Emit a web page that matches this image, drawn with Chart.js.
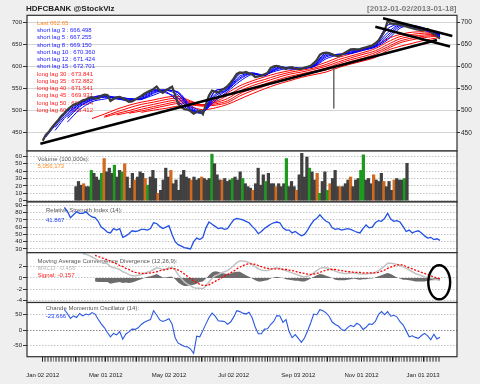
<!DOCTYPE html>
<html>
<head>
<meta charset="utf-8">
<title>HDFCBANK @StockViz</title>
<script src="https://cdn.jsdelivr.net/npm/chart.js@4.4.1/dist/chart.umd.min.js"></script>
<style>
  html, body { margin:0; padding:0; background:#efefef; }
  #wrap { position:relative; width:480px; height:384px; overflow:hidden; background:#efefef; }
  #wrap canvas { position:absolute; left:0; top:0; }
</style>
</head>
<body>
<div id="wrap">
  <canvas id="pricePanel" width="480" height="384"></canvas>
  <canvas id="volumePanel" width="480" height="384"></canvas>
  <canvas id="rsiPanel" width="480" height="384"></canvas>
  <canvas id="macdPanel" width="480" height="384"></canvas>
  <canvas id="cmoPanel" width="480" height="384"></canvas>
</div>
<script>
// ---------------- DATA ----------------
// x = trading-day index (0 = Jan 02 2012), one sample every 2nd trading day
const close = [432,445,452,462,470,478,487,494,502,508,
  513,515,519,523,525,529,530,527,528,533,
  536,535,522,526,530,531,528,524,520,521,
  525,529,533,538,542,545,549,554,545,540,
  546,550,554,535,515,508,503,502,499,493,
  497,500,492,514,534,545,543,541,546,550,
  555,563,572,583,586,585,587,584,582,576,
  577,579,582,585,596,600,601,599,597,594,
  597,598,595,594,594,597,599,601,607,614,
  626,630,631,630,627,624,623,626,630,634,
  638,639,638,639,641,643,645,647,652,658,
  668,680,702,697,696,696,694,692,690,688,
  686,684,683,681,682,684,678,673,668,662.65];

// volume in 100,000s
const volume = [19,26,21,23,19,19,41,37,32,28,
  37,57,39,44,37,48,32,41,39,50,
  32,17,37,28,32,39,37,30,21,32,
  41,30,10,14,28,44,32,41,23,28,
  14,35,41,32,30,28,32,28,30,32,
  30,28,30,63,50,35,28,28,30,26,
  28,30,32,28,39,30,23,19,17,14,
  23,44,21,35,26,37,23,23,19,23,
  19,23,57,19,26,19,14,35,64,32,
  59,44,39,28,37,10,26,39,14,23,
  30,41,19,19,19,23,28,32,19,28,
  30,41,62,28,30,23,35,28,26,37,
  26,19,26,14,28,30,28,28,30,50.56173];
// 0 = plain bar, 1 = green bar, 2 = orange bar
const volFlag = [0,0,0,2,0,0,1,0,0,0,
  1,2,0,0,0,1,0,0,1,2,
  0,0,0,2,0,0,0,2,1,0,
  0,0,2,0,0,0,0,2,0,0,
  0,0,0,0,0,2,0,0,0,2,
  0,0,0,1,0,0,0,2,0,0,
  0,1,0,0,0,1,0,0,0,2,
  0,0,0,0,1,0,0,0,2,0,
  0,0,1,0,0,0,2,0,0,0,
  0,1,0,0,2,1,0,0,1,2,
  0,0,0,2,0,0,0,2,0,0,
  0,1,1,0,0,0,2,0,0,0,
  2,0,0,0,2,0,0,0,1,0];

const rsi = [null,null,null,null,null,null,null,87,82,73,
  77,81,79,79,81,77,74,73,68,60,
  57,53,52,58,56,58,46,48,51,55,
  54,55,57,57,56,58,66,65,61,58,
  60,62,50,40,36,34,32,31,30,40,
  45,43,46,59,67,64,61,58,59,57,
  58,64,70,72,71,70,68,66,61,57,
  51,54,58,61,64,66,67,66,59,56,
  56,52,54,51,48,50,56,63,69,72,
  77,72,68,66,59,57,58,56,57,58,
  57,55,53,52,58,63,59,60,66,69,
  68,72,79,71,68,69,67,61,54,56,
  52,54,55,52,48,45,46,43,44,41.867];

const macd = [null,null,null,null,null,null,null,null,null,null,
  null,null,null,4.3,4.2,4.0,3.7,3.4,3.1,2.9,
  2.7,2.5,2.0,1.8,1.7,1.5,1.1,0.9,0.6,0.4,
  0.4,0.5,0.6,0.8,1.0,1.2,1.5,1.8,1.7,1.5,
  1.6,1.8,1.9,1.4,0.6,-0.1,-0.7,-1.1,-1.4,-1.7,
  -1.8,-1.8,-1.9,-1.4,-0.7,-0.1,0.4,0.6,0.9,1.1,
  1.3,1.7,2.2,2.7,3.0,3.0,2.9,2.7,2.4,2.0,
  1.6,1.4,1.3,1.3,1.5,1.7,1.8,1.7,1.5,1.3,
  1.1,0.9,0.7,0.5,0.3,0.2,0.3,0.5,0.9,1.3,
  1.7,1.8,1.8,1.7,1.5,1.2,1.0,0.9,0.8,0.8,
  0.9,0.9,0.8,0.7,0.7,0.7,0.8,0.8,1.0,1.3,
  1.7,2.1,2.6,2.6,2.5,2.4,2.2,2.0,1.7,1.4,
  1.1,0.8,0.6,0.4,0.2,0.1,0.0,-0.2,-0.3,-0.456];

const signal = [null,null,null,null,null,null,null,null,null,null,
  null,null,null,null,null,null,null,4.0,3.8,3.6,
  3.4,3.2,3.0,2.7,2.5,2.2,2.0,1.7,1.5,1.2,
  1.0,0.9,0.8,0.8,0.8,0.9,1.0,1.1,1.3,1.4,
  1.5,1.6,1.7,1.6,1.4,1.1,0.7,0.3,-0.1,-0.5,
  -0.8,-1.1,-1.3,-1.3,-1.2,-0.9,-0.6,-0.3,0.0,0.3,
  0.6,0.9,1.2,1.6,1.9,2.2,2.4,2.5,2.5,2.4,
  2.2,2.0,1.8,1.7,1.6,1.6,1.6,1.6,1.5,1.5,
  1.4,1.3,1.2,1.0,0.9,0.8,0.7,0.6,0.7,0.8,
  1.0,1.2,1.4,1.5,1.5,1.5,1.4,1.3,1.2,1.1,
  1.1,1.0,1.0,1.0,0.9,0.9,0.9,0.9,0.9,1.0,
  1.2,1.4,1.7,1.9,2.1,2.3,2.3,2.3,2.0,1.8,
  1.6,1.4,1.2,1.0,0.8,0.6,0.4,0.2,0.0,-0.157];

const histogram = [null,null,null,null,null,null,null,null,null,null,
  null,null,null,null,null,null,null,-0.6,-0.7,-0.7,
  -0.7,-0.7,-1.0,-0.9,-0.8,-0.7,-0.9,-0.8,-0.9,-0.8,
  -0.6,-0.4,-0.2,0.0,0.2,0.3,0.5,0.7,0.4,0.1,
  0.1,0.2,0.2,-0.2,-0.8,-1.2,-1.4,-1.4,-1.3,-1.2,
  -1.0,-0.7,-0.6,-0.1,0.5,1.0,1.2,1.1,0.9,0.8,
  0.7,0.8,1.0,1.1,1.1,0.8,0.5,0.2,-0.1,-0.4,
  -0.6,-0.6,-0.5,-0.4,-0.1,0.1,0.2,0.1,0.0,-0.2,
  -0.3,-0.4,-0.5,-0.5,-0.6,-0.6,-0.4,-0.1,0.2,0.5,
  0.7,0.6,0.4,0.2,0.0,-0.3,-0.4,-0.4,-0.4,-0.3,
  -0.2,-0.1,-0.2,-0.3,-0.2,-0.2,-0.1,-0.1,0.1,0.3,
  0.5,0.7,0.9,0.7,0.4,0.1,-0.1,-0.3,-0.3,-0.4,
  -0.5,-0.6,-0.6,-0.6,-0.6,-0.5,-0.4,-0.4,-0.3,-0.3];

const cmo = [null,null,null,null,null,null,null,67,54,38,
  46,41,54,46,52,49,57,52,35,20,
  8,-8,-22,-11,-16,-5,-30,-13,-6,3,
  2,7,18,25,30,34,63,49,33,28,
  32,37,20,-25,-43,-48,-54,-55,-62,-76,
  -20,-22,-2,20,41,55,45,30,29,28,
  19,26,42,63,60,55,52,58,40,10,
  -12,-12,3,4,18,28,47,46,25,34,
  -5,-25,-15,-27,-40,-26,-3,23,52,50,
  66,63,56,45,26,18,13,2,-2,8,
  15,11,22,16,2,9,20,18,28,50,
  60,50,60,45,48,43,27,17,-2,-22,
  -19,-24,-27,-18,-11,-19,-32,-14,-29,-23.666];

// moving-average ribbons, sampled on these trading days
const maDays = [2,8,16,24,32,40,48,56,64,72,80,88,96,104,112,120,128,136,144,152,160,168,176,184,192,200,208,216,224,232,240,248,256,258];
const shortLag3  = [440,466,498,517,529.5,535,528,522,531,547,543,520,500,496,544,552,585,583,580,600,595,594,604,630.5,623.5,636,640,650,693,695,687,681.5,670,666.498];
const shortLag5  = [null,462,494,515,529,533,526,524,529,545,540,528,502,500,545,550,583,584,579,600,594,595,601,630,624,634,639,647,685,695.5,688,681,673,667.255];
const shortLag8  = [null,455,490,514,527,531,528,526,527,543.5,546,535,503,495.5,537,548,578,584.5,578.5,597,597,595,602,627,626,632,639,647,676,695,689,682.5,672,669.150];
const shortLag10 = [null,null,486,511,525,531,530,527,525.6,541,547,540,505,496,533,547,574,585,579,595,597.6,595.6,601,624,627,630,639,645.6,670,693,690,683,673,670.360];
const shortLag12 = [null,null,482,508.5,523.5,530.5,530,526.5,525,539,546.5,540,508,497,528,546.7,571,584.5,580,593,598,595.3,600,621,627.5,629,638,644.5,665,690,691,684,674,671.424];
const shortLag15 = [null,null,474,502,520,526,530,527,526,535,545,542,512,499,522,543,566,582,581.5,590,596,596,599,617,625.6,629,636,643,660,686,692,686,675,672.701];
const longLag30 = [null,null,null,null,482,492,503,512,519,524,530,532,522,513,524,540,556,567,576,584,590,595,600,609,620,628,636,645,662,672,677,678,675,673.841];
const longLag35 = [null,null,null,null,null,487,497,506,514,519,525,528,520,513,520,534,550,562,570,579,586,591,596,604,615,623,631,640,655,667,672,675,673.5,672.882];
const longLag40 = [null,null,null,null,null,485,493,500,508,514,520,524,518,513,518,527,544,556,565,574,582,587,593,600,610,619,627,635,649,662,668,671,672,671.541];
const longLag45 = [null,null,null,null,null,null,490,496,503,509,515,520,516,512,515,522,538,550,560,569,577,583,589,596,606,615,622,631,644,657,664,668,670,669.931];
const longLag50 = [null,null,null,null,null,null,null,494,499,505,511,516,513,510,512,518,533,545,555,565,573,580,586,592,602,611,618,627,640,653,660,665,668,668.204];
const longLag60 = [null,null,null,null,null,null,null,null,496,501,505,510,508,502,506,514,526,538,549,559,567,575,581,587,597,605,612,620,636,645,652,659,664,665.412];
const shortLagN = [3,5,8,10,12,15];
const longLagN = [30,35,40,45,50,60];

// hand-drawn trend lines: [startDay, startPrice, endDay, endPrice]
const trendLines = [[-1.5,425,256,659.5],[221,708.5,266,668.5],[216,689.5,264.5,644.5]];
// single long wick
const wickDay = 189, wickHigh = 601, wickLow = 505;
// ellipse marked on the MACD panel: [centerDay, centerValue, halfWidthDays, halfHeightValue]
const macdEllipse = [257.5, -0.76, 7.1, 3.0];

// axes
const priceTicks = [450,500,550,600,650,700];
const volTicks = [0,10,20,30,40,50,60];
const rsiTicks = [30,40,50,60,70,80,90];
const macdTicks = [-4,-2,0,2];
const cmoTicks = [-50,0,50];
const xLabelDays = [0,41,82,124,166,207,247];
const xLabels = ['Jan 02 2012','Mar 01 2012','May 02 2012','Jul 02 2012','Sep 03 2012','Nov 01 2012','Jan 01 2013'];
const monthStartDays = [0,21,41,61,82,103,124,146,166,185,207,227,247];
const lastTradingDay = 258;

// ---------------- CHARTS ----------------
const FONT = '"Liberation Sans", Arial, Helvetica, sans-serif';
Chart.defaults.font.family = FONT;
const X_MIN = -10.2, X_MAX = 269.04;
const sampleDays = close.map((_, i) => i * 2);
const tradingDays = Array.from({ length: lastTradingDay + 1 }, (_, i) => i);
const pts = (days, vals) => days.map((d, i) => ({ x: d, y: vals[i] }));
const last = a => a[a.length - 1];

const panelPlugin = {
  id: 'panel',
  beforeDraw(chart) {
    const a = chart.chartArea, c = chart.ctx;
    c.save(); c.fillStyle = '#ffffff';
    c.fillRect(a.left, a.top, a.right - a.left, a.bottom - a.top);
    c.restore();
  },
  beforeDatasetsDraw(chart, args, opts) {
    const a = chart.chartArea, c = chart.ctx;
    c.save();
    c.textBaseline = 'middle'; c.textAlign = 'left';
    c.font = '6px ' + FONT;
    (opts.lines || []).forEach(l => { c.fillStyle = l.color; c.fillText(l.text, a.left + l.dx, a.top + l.dy); });
    if (opts.baseBand) {
      const y0 = chart.scales.y.getPixelForValue(0);
      c.fillStyle = '#a5a5a5';
      c.fillRect(a.left, y0, a.right - a.left, a.bottom - y0);
    }
    c.restore();
  },
  afterDraw(chart, args, opts) {
    const a = chart.chartArea, c = chart.ctx;
    c.save();
    if (opts.ellipse) {
      const e = opts.ellipse, xs = chart.scales.x, ys = chart.scales.y;
      const cx = xs.getPixelForValue(e[0]), cy = ys.getPixelForValue(e[1]);
      const rx = Math.abs(xs.getPixelForValue(e[0] + e[2]) - cx);
      const ry = Math.abs(ys.getPixelForValue(e[1] + e[3]) - cy);
      c.strokeStyle = '#000'; c.lineWidth = 2.4;
      c.beginPath(); c.ellipse(cx, cy, rx, ry, 0, 0, Math.PI * 2); c.stroke();
    }
    c.strokeStyle = '#2e2e2e'; c.lineWidth = 1.2;
    c.strokeRect(a.left, a.top, a.right - a.left, a.bottom - a.top);
    if (opts.title) {
      c.textBaseline = 'middle';
      c.font = 'bold 8px ' + FONT;
      c.fillStyle = '#222'; c.textAlign = 'left';
      c.fillText('HDFCBANK @StockViz', 26, 8.5);
      c.fillStyle = '#7a7a7a'; c.textAlign = 'right';
      c.fillText('[2012-01-02/2013-01-18]', 456.5, 8.5);
    }
    c.restore();
  }
};

function yScale(o) {
  return {
    type: 'linear', position: o.position || 'left', min: o.min, max: o.max,
    afterBuildTicks: s => { s.ticks = o.ticks.map(v => ({ value: v })); },
    afterFit: s => { s.width = o.width || 27; },
    border: { display: false, dash: o.dash || [] },
    grid: {
      drawOnChartArea: o.onArea !== false, color: o.gridColor || '#d4d4d4', lineWidth: 1,
      drawTicks: true, tickLength: o.tickLength || 4, tickColor: '#333', tickWidth: 1, tickBorderDash: []
    },
    ticks: { font: { family: FONT, size: o.fontSize || 6 }, color: '#222', padding: 1, autoSkip: false }
  };
}
const hiddenX = { type: 'linear', min: X_MIN, max: X_MAX, display: false };

function baseOpts(top, bottomPad, rightPad, scales, panelOpts) {
  return {
    responsive: false, animation: false, events: [], devicePixelRatio: 1,
    layout: { padding: { top: top, bottom: bottomPad, left: 0, right: rightPad } },
    plugins: { legend: { display: false }, tooltip: { enabled: false }, panel: panelOpts },
    scales: scales
  };
}
const lineDs = (data, color, width, order, extra) => Object.assign({
  type: 'line', data: data, borderColor: color, borderWidth: width, pointRadius: 0,
  fill: false, tension: 0, order: order, spanGaps: false
}, extra || {});

// ---- price panel ----
const shortLags = [shortLag3, shortLag5, shortLag8, shortLag10, shortLag12, shortLag15];
const longLags = [longLag30, longLag35, longLag40, longLag45, longLag50, longLag60];
const priceLegend = [{ text: 'Last ' + last(close).toFixed(2), color: '#ff8a1e' }]
  .concat(shortLagN.map((n, i) => ({ text: 'short lag ' + n + ' : ' + last(shortLags[i]).toFixed(3), color: '#1a1aff' })))
  .concat(longLagN.map((n, i) => ({ text: 'long lag ' + n + ' : ' + last(longLags[i]).toFixed(3), color: '#ff1a1a' })))
  .map((l, i) => Object.assign(l, { dx: 10, dy: 8 + 7.25 * i }));

new Chart(document.getElementById('pricePanel'), {
  type: 'line',
  data: { datasets: [
    ...trendLines.map(t => lineDs([{ x: t[0], y: t[1] }, { x: t[2], y: t[3] }], '#000', 2.6, 0)),
    lineDs(pts(sampleDays, close), '#3b3b3b', 2.3, 1),
    lineDs([{ x: wickDay, y: wickHigh }, { x: wickDay, y: wickLow }], '#6d6d6d', 1, 2),
    ...shortLags.map(s => lineDs(pts(maDays, s), '#0000ff', 1, 3, { tension: 0.3 })),
    ...longLags.map(s => lineDs(pts(maDays, s), '#ff0000', 1, 4, { tension: 0.3 }))
  ] },
  options: baseOpts(15.3, 233, 0, {
    x: hiddenX,
    y: yScale({ min: 408.7, max: 715.2, ticks: priceTicks }),
    y2: yScale({ position: 'right', min: 408.7, max: 715.2, ticks: priceTicks, onArea: false, width: 23, tickLength: 3, fontSize: 6.5 })
  }, { lines: priceLegend, title: true }),
  plugins: [panelPlugin]
});

// ---- volume panel ----
const volColors = ['#404040', '#1e9a1e', '#d2691e'];
new Chart(document.getElementById('volumePanel'), {
  type: 'bar',
  data: { datasets: [{
    type: 'bar', data: pts(sampleDays, volume),
    backgroundColor: volFlag.map(f => volColors[f]), borderWidth: 0,
    barPercentage: 1.0, categoryPercentage: 1.0, grouped: false
  }] },
  options: baseOpts(151, 182, 23, {
    x: hiddenX,
    y: yScale({ min: -1.76, max: 67.2, ticks: volTicks, dash: [1.5, 1.5], gridColor: '#c4c4c4' })
  }, { baseBand: true, lines: [
    { text: 'Volume (100,000s):', color: '#555', dx: 10.5, dy: 8.3 },
    { text: Math.round(last(volume) * 100000).toLocaleString('en-US'), color: '#ff8a1e', dx: 10.5, dy: 15 }
  ] }),
  plugins: [panelPlugin]
});

// ---- RSI panel ----
new Chart(document.getElementById('rsiPanel'), {
  type: 'line',
  data: { datasets: [lineDs(pts(sampleDays, rsi), '#2150e6', 1.3, 1)] },
  options: baseOpts(202, 131.3, 23, {
    x: hiddenX,
    y: yScale({ min: 24.9, max: 94.5, ticks: rsiTicks, dash: [1.5, 1.5], gridColor: '#c4c4c4' })
  }, { lines: [
    { text: 'Relative Strength Index (14):', color: '#555', dx: 19, dy: 8.7 },
    { text: last(rsi).toFixed(3), color: '#2040ff', dx: 19, dy: 18 }
  ] }),
  plugins: [panelPlugin]
});

// ---- MACD panel ----
new Chart(document.getElementById('macdPanel'), {
  type: 'line',
  data: { datasets: [
    lineDs(pts(sampleDays, signal), '#ff0000', 1.3, 1, { borderDash: [2, 1.6] }),
    lineDs(pts(sampleDays, macd), '#c2c2c2', 1.5, 2),
    lineDs(pts(sampleDays, histogram), 'rgba(0,0,0,0)', 0, 3, { fill: 'origin', backgroundColor: '#6c6c6c' })
  ] },
  options: baseOpts(252.7, 81.5, 23, {
    x: hiddenX,
    y: yScale({ min: -4.32, max: 4.46, ticks: macdTicks, dash: [1.5, 1.5], gridColor: '#c4c4c4' })
  }, { ellipse: macdEllipse, lines: [
    { text: 'Moving Average Convergence Divergence (12,26,9):', color: '#555', dx: 10.5, dy: 8.3 },
    { text: 'MACD: ' + last(macd).toFixed(3), color: '#b8b8b8', dx: 10.5, dy: 15.6 },
    { text: 'Signal: ' + last(signal).toFixed(3), color: '#ff1a1a', dx: 10.5, dy: 22.3 }
  ] }),
  plugins: [panelPlugin]
});

// ---- CMO panel + time axis ----
new Chart(document.getElementById('cmoPanel'), {
  type: 'line',
  data: { datasets: [lineDs(pts(sampleDays, cmo), '#2a58e0', 1.1, 1)] },
  options: baseOpts(302.5, 0, 23, {
    x: {
      type: 'linear', position: 'bottom', min: X_MIN, max: X_MAX,
      afterBuildTicks: s => { s.ticks = tradingDays.map(v => ({ value: v })); },
      afterFit: s => { s.height = 27.3; },
      border: { display: false },
      grid: {
        drawOnChartArea: false, drawTicks: true, tickLength: 5, tickWidth: 1,
        tickColor: ctx => (ctx.tick && monthStartDays.includes(ctx.tick.value)) ? '#222' : '#8c8c8c'
      },
      ticks: {
        autoSkip: false, maxRotation: 0, minRotation: 0, padding: 10,
        font: { family: FONT, size: 6 }, color: '#222',
        callback: v => { const k = xLabelDays.indexOf(v); return k >= 0 ? xLabels[k] : ''; }
      }
    },
    y: yScale({ min: -87, max: 89.7, ticks: cmoTicks, dash: [1.5, 1.5],
      gridColor: ctx => (ctx.tick && ctx.tick.value === 0) ? '#8a8a8a' : '#c4c4c4' })
  }, { lines: [
    { text: 'Chande Momentum Oscillator (14):', color: '#555', dx: 18.7, dy: 5.8 },
    { text: last(cmo).toFixed(3), color: '#2040ff', dx: 18.7, dy: 14.2 }
  ] }),
  plugins: [panelPlugin]
});
</script>
</body>
</html>
